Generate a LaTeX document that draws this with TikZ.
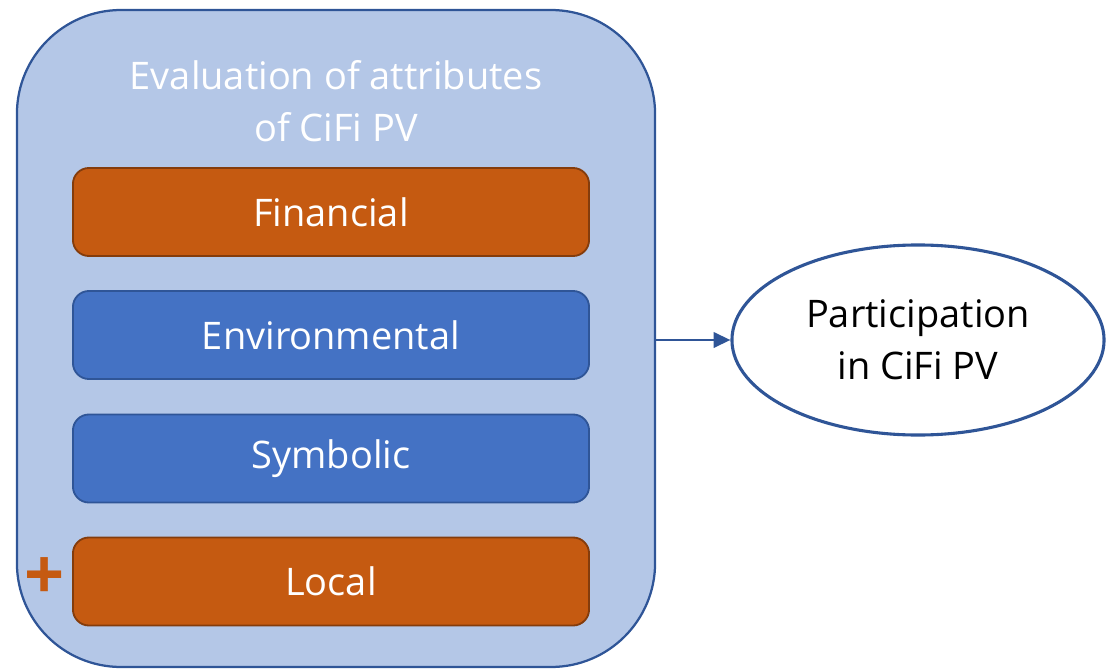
\documentclass[tikz,border=0pt]{standalone}
\usepackage{fontspec}
\setmainfont{Open Sans}
\usetikzlibrary{positioning,shapes.geometric,arrows.meta}

\definecolor{panelfill}{HTML}{B4C7E7}
\definecolor{panelline}{HTML}{2F5597}
\definecolor{orangefill}{HTML}{C55A11}
\definecolor{orangeline}{HTML}{843C0C}
\definecolor{bluefill}{HTML}{4472C4}

\tikzset{
  attr/.style={draw, line width=1.3pt, rounded corners=0.4cm,
    minimum width=12.9cm, minimum height=2.2cm, text=white,
    font=\fontsize{27}{34}\selectfont},
  orangeattr/.style={attr, fill=orangefill, draw=orangeline},
  blueattr/.style={attr, fill=bluefill, draw=panelline},
}

\begin{document}
\begin{tikzpicture}[x=0.025cm, y=-0.025cm]
  \useasboundingbox (0,0) rectangle (1108,669);
  \node[draw=panelline, fill=panelfill, line width=1.6pt, rounded corners=2.6cm,
    minimum width=15.95cm, minimum height=16.42cm] (eval) at (336,338.5) {};
  \node[text=white, align=center, font=\fontsize{27}{37}\selectfont]
    (title) at (336,101) {Evaluation of attributes\\of CiFi PV};
  \node[orangeattr] (fin) at (331,212) {Financial};
  \node[blueattr] (env) at (331,335) {Environmental};
  \node[blueattr] (sym) at (331,458.5) {Symbolic};
  \node[orangeattr] (loc) at (331,581.5) {Local};
  \node[text=orangefill, font=\fontsize{50}{50}\selectfont\bfseries] (plus) at (45,579) {+};
  \node[ellipse, draw=panelline, fill=white, line width=2.2pt,
    minimum width=9.3cm, minimum height=4.75cm, align=center,
    font=\fontsize{27}{37}\selectfont] (part) at (918,340) {Participation\\in CiFi PV};
  \draw[panelline, line width=1.8pt, -{Triangle[length=12pt,width=11pt]}]
    (eval.east |- part.west) -- (part.west);
\end{tikzpicture}
\end{document}
